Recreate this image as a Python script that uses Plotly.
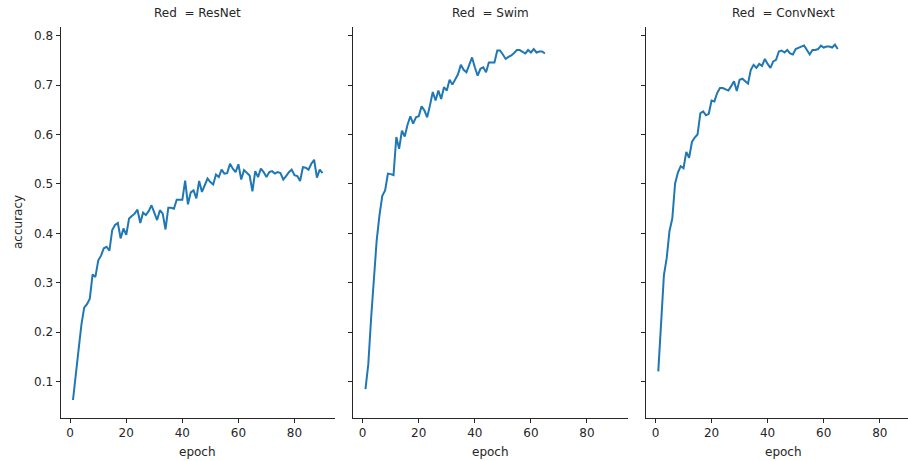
import plotly.graph_objects as go

W, H = 908, 461

panel_names = ["ResNet", "Swim", "ConvNext"]
x_ticks = [0, 20, 40, 60, 80]
y_ticks = [0.1, 0.2, 0.3, 0.4, 0.5, 0.6, 0.7, 0.8]
y_tick_labels = ["0.1", "0.2", "0.3", "0.4", "0.5", "0.6", "0.7", "0.8"]

resnet_acc = [
    0.063, 0.120, 0.165, 0.215, 0.250, 0.257, 0.268, 0.317, 0.312, 0.345,
    0.355, 0.370, 0.373, 0.365, 0.407, 0.417, 0.421, 0.390, 0.410, 0.397,
    0.430, 0.435, 0.440, 0.448, 0.421, 0.442, 0.437, 0.445, 0.457, 0.442,
    0.427, 0.447, 0.440, 0.408, 0.452, 0.452, 0.450, 0.468, 0.468, 0.468,
    0.507, 0.459, 0.483, 0.487, 0.471, 0.506, 0.484, 0.496, 0.511, 0.504,
    0.499, 0.519, 0.514, 0.529, 0.521, 0.522, 0.541, 0.531, 0.524, 0.540,
    0.509, 0.528, 0.522, 0.517, 0.485, 0.526, 0.514, 0.531, 0.524, 0.514,
    0.524, 0.526, 0.521, 0.524, 0.522, 0.509, 0.516, 0.524, 0.529, 0.518,
    0.516, 0.506, 0.534, 0.533, 0.529, 0.541, 0.549, 0.513, 0.529, 0.522,
]

swim_acc = [
    0.085, 0.135, 0.228, 0.305, 0.386, 0.437, 0.476, 0.487, 0.521, 0.520,
    0.518, 0.595, 0.571, 0.608, 0.596, 0.620, 0.637, 0.622, 0.635, 0.637,
    0.657, 0.649, 0.635, 0.659, 0.686, 0.669, 0.689, 0.672, 0.696, 0.689,
    0.711, 0.701, 0.712, 0.722, 0.741, 0.731, 0.726, 0.740, 0.756, 0.736,
    0.719, 0.733, 0.736, 0.726, 0.746, 0.746, 0.746, 0.770, 0.770, 0.762,
    0.753, 0.757, 0.760, 0.765, 0.771, 0.771, 0.767, 0.764, 0.771, 0.766,
    0.773, 0.766, 0.768, 0.768, 0.764,
]

convnext_acc = [
    0.121, 0.230, 0.315, 0.350, 0.405, 0.430, 0.501, 0.523, 0.536, 0.532,
    0.565, 0.553, 0.585, 0.594, 0.600, 0.643, 0.647, 0.639, 0.642, 0.669,
    0.667, 0.684, 0.694, 0.694, 0.692, 0.689, 0.698, 0.708, 0.688, 0.711,
    0.713, 0.708, 0.703, 0.731, 0.741, 0.735, 0.743, 0.739, 0.753, 0.743,
    0.735, 0.748, 0.751, 0.768, 0.770, 0.766, 0.771, 0.764, 0.762, 0.773,
    0.776, 0.778, 0.780, 0.771, 0.762, 0.771, 0.771, 0.773, 0.780, 0.776,
    0.778, 0.778, 0.776, 0.782, 0.773,
]

series = [resnet_acc, swim_acc, convnext_acc]

FONT = "DejaVu Sans"
TXT = "#262626"
LINE_COLOR = "#1f77b4"


def fx(p):
    return p / W


def fy(p):
    return 1 - p / H


# panel geometry in page pixels
px_per_unit = 2.804
panel_left = [60.5, 353.0, 645.8]
panel_right = [335.0, 627.5, 908.0]
panel_w = 274.5
x0 = -3.45
y_top_px, y_bot_px = 26.8, 417.8
y_dom = [fy(y_bot_px), fy(y_top_px)]
y_range = [0.027, 0.818]

fig = go.Figure()
layout = dict(
    width=W, height=H,
    margin=dict(l=0, r=0, t=0, b=0),
    paper_bgcolor="white", plot_bgcolor="white",
    showlegend=False,
    font=dict(family=FONT, size=12, color=TXT),
)

annotations = []
for i, (name, vals) in enumerate(zip(panel_names, series)):
    sfx = "" if i == 0 else str(i + 1)
    epochs = list(range(1, len(vals) + 1))
    fig.add_trace(go.Scatter(
        x=epochs, y=vals, mode="lines",
        line=dict(color=LINE_COLOR, width=2),
        xaxis="x" + sfx, yaxis="y" + sfx, hoverinfo="skip",
    ))
    l, r = panel_left[i], panel_right[i]
    x1 = x0 + (r - l) / px_per_unit
    layout["xaxis" + sfx] = dict(
        domain=[fx(l), min(1.0, fx(r))], range=[x0, x1], anchor="y" + sfx,
        tickvals=x_ticks, ticktext=[str(t) for t in x_ticks],
        showline=True, linecolor=TXT, linewidth=1,
        ticks="outside", ticklen=4, tickwidth=1, tickcolor=TXT,
        showgrid=False, zeroline=False,
        tickfont=dict(family=FONT, size=12, color=TXT),
    )
    layout["yaxis" + sfx] = dict(
        domain=y_dom, range=y_range, anchor="x" + sfx,
        tickvals=y_ticks, ticktext=y_tick_labels,
        showticklabels=(i == 0),
        showline=True, linecolor=TXT, linewidth=1,
        ticks="outside", ticklen=4, tickwidth=1, tickcolor=TXT,
        showgrid=False, zeroline=False,
        tickfont=dict(family=FONT, size=12, color=TXT),
    )
    cx = fx(l + panel_w / 2)
    annotations.append(dict(
        text="Red\u00a0 = " + name, x=cx, y=fy(13),
        xref="paper", yref="paper", xanchor="center", yanchor="middle",
        showarrow=False, font=dict(family=FONT, size=12, color=TXT),
    ))
    annotations.append(dict(
        text="epoch", x=cx, y=fy(452),
        xref="paper", yref="paper", xanchor="center", yanchor="middle",
        showarrow=False, font=dict(family=FONT, size=12, color=TXT),
    ))

annotations.append(dict(
    text="accuracy", x=fx(18), y=fy(222),
    xref="paper", yref="paper", xanchor="center", yanchor="middle",
    textangle=-90, showarrow=False, font=dict(family=FONT, size=12, color=TXT),
))
layout["annotations"] = annotations
fig.update_layout(**layout)

# remove the default 8px page margin so the figure fills the window exactly
fig.write_html(
    "out.html",
    config={"displayModeBar": False, "staticPlot": True},
    post_script="document.body.style.margin='0';document.body.style.overflow='hidden';",
)
